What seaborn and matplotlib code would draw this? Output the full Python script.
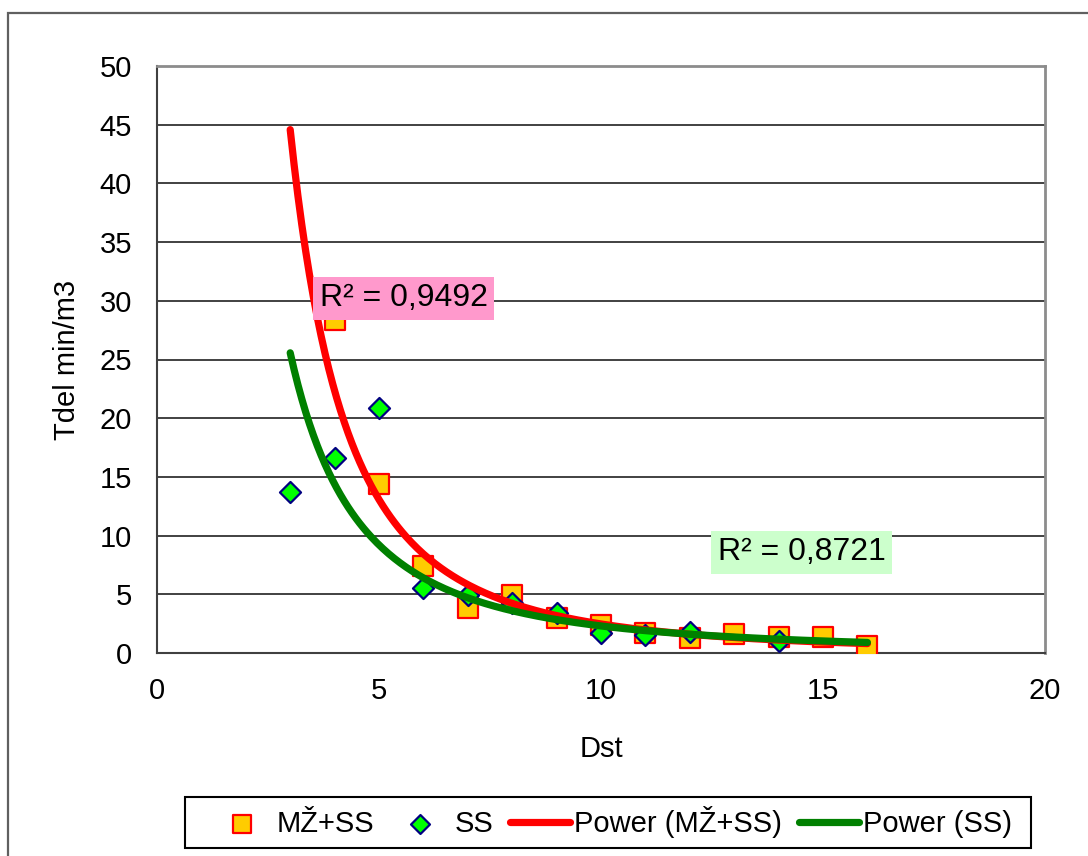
import numpy as np
import pandas as pd
import matplotlib
matplotlib.use("Agg")
import matplotlib.pyplot as plt
import matplotlib.patches as mpatches
import seaborn as sns

# ---- data ----
mz_x = [4, 5, 6, 7, 8, 9, 10, 11, 12, 13, 14, 15, 16]
mz_y = [28.4, 14.4, 7.4, 3.8, 4.9, 3.0, 2.4, 1.7, 1.3, 1.6, 1.4, 1.35, 0.6]
ss_x = [3, 4, 5, 6, 7, 8, 9, 10, 11, 12, 14]
ss_y = [13.7, 16.6, 20.9, 5.5, 4.9, 4.3, 3.4, 1.7, 1.5, 1.8, 1.0]
trend_range = [3, 16]
r2_labels = ["R² = 0,9492", "R² = 0,8721"]
series_names = ["MŽ+SS", "SS", "Power (MŽ+SS)", "Power (SS)"]
x_ticks = [0, 5, 10, 15, 20]
y_ticks = [0, 5, 10, 15, 20, 25, 30, 35, 40, 45, 50]

sns.set_style("white")
plt.rcParams["font.family"] = ["Liberation Sans", "DejaVu Sans"]
for k in ["text.color", "axes.labelcolor", "xtick.color", "ytick.color"]:
    plt.rcParams[k] = "black"
FS = 21


def power_fit(x, y):
    b, lna = np.polyfit(np.log(x), np.log(y), 1)
    return np.exp(lna), b


W, H = 1088, 856
fig = plt.figure(figsize=(W / 100, H / 100), dpi=100)
ax = fig.add_axes([157 / W, 1 - 653 / H, (1045 - 157) / W, (653 - 66) / H])

# outer chart frame
fig.patches.append(mpatches.Rectangle((8 / W, -0.2), 1.2, 1.2 - 13 / H,
                                      transform=fig.transFigure, fill=False,
                                      edgecolor="#606060", linewidth=1.6, clip_on=False))
# legend frame
fig.patches.append(mpatches.Rectangle((185 / W, 1 - 848 / H), (1031 - 185) / W, (848 - 797) / H,
                                      transform=fig.transFigure, fill=False,
                                      edgecolor="#000000", linewidth=1.5, clip_on=False))

df_mz = pd.DataFrame({"x": mz_x, "y": mz_y})
df_ss = pd.DataFrame({"x": ss_x, "y": ss_y})

sns.scatterplot(data=df_mz, x="x", y="y", ax=ax, marker="s", s=210,
                color="#FFCC00", edgecolor="#FF0000", linewidth=1.6,
                label=series_names[0], zorder=3)
sns.scatterplot(data=df_ss, x="x", y="y", ax=ax, marker="D", s=115,
                color="#00FF00", edgecolor="#000080", linewidth=1.6,
                label=series_names[1], zorder=4)

xc = np.linspace(trend_range[0], trend_range[1], 300)
a1, b1 = power_fit(mz_x, mz_y)
a2, b2 = power_fit(ss_x, ss_y)
sns.lineplot(x=xc, y=a1 * xc ** b1, ax=ax, color="#FF0000", linewidth=5.2,
             label=series_names[2], zorder=5, solid_capstyle="round")
sns.lineplot(x=xc, y=a2 * xc ** b2, ax=ax, color="#008000", linewidth=5.2,
             label=series_names[3], zorder=6, solid_capstyle="round")

ax.set_xlim(0, 20)
ax.set_ylim(0, 50)
ax.set_xticks(x_ticks)
ax.set_yticks(y_ticks)
ax.set_xticklabels([str(v) for v in x_ticks], fontsize=FS)
ax.set_yticklabels([str(v) for v in y_ticks], fontsize=FS)
ax.tick_params(axis="both", direction="out", length=5, width=1.2, color="#404040")
ax.tick_params(axis="x", pad=12)
ax.tick_params(axis="y", pad=13)
ax.yaxis.grid(True, color="#333333", linewidth=1.3)
ax.xaxis.grid(False)
ax.set_axisbelow(True)

for side in ["left", "bottom"]:
    ax.spines[side].set_color("#404040")
    ax.spines[side].set_linewidth(1.5)
for side in ["top", "right"]:
    ax.spines[side].set_visible(True)
    ax.spines[side].set_color("#8C8C8C")
    ax.spines[side].set_linewidth(2.0)

ax.set_xlabel("Dst", fontsize=FS, labelpad=22)
ax.set_ylabel("Tdel min/m3", fontsize=FS, labelpad=13)

ax.text(5.56, 30.2, r2_labels[0], fontsize=23, ha="center", va="center", zorder=7,
        bbox=dict(boxstyle="square,pad=0.2", facecolor="#FF99CC", edgecolor="none"))
ax.text(14.52, 8.57, r2_labels[1], fontsize=23, ha="center", va="center", zorder=7,
        bbox=dict(boxstyle="square,pad=0.2", facecolor="#CCFFCC", edgecolor="none"))

leg = ax.legend(loc="center", bbox_to_anchor=(612 / W, 1 - 822 / H),
                bbox_transform=fig.transFigure, ncol=4, fontsize=FS,
                frameon=False, handlelength=2.05, handletextpad=0.15,
                columnspacing=0.57, borderpad=0.25, markerscale=0.9)

fig.savefig("out.png", dpi=100)
